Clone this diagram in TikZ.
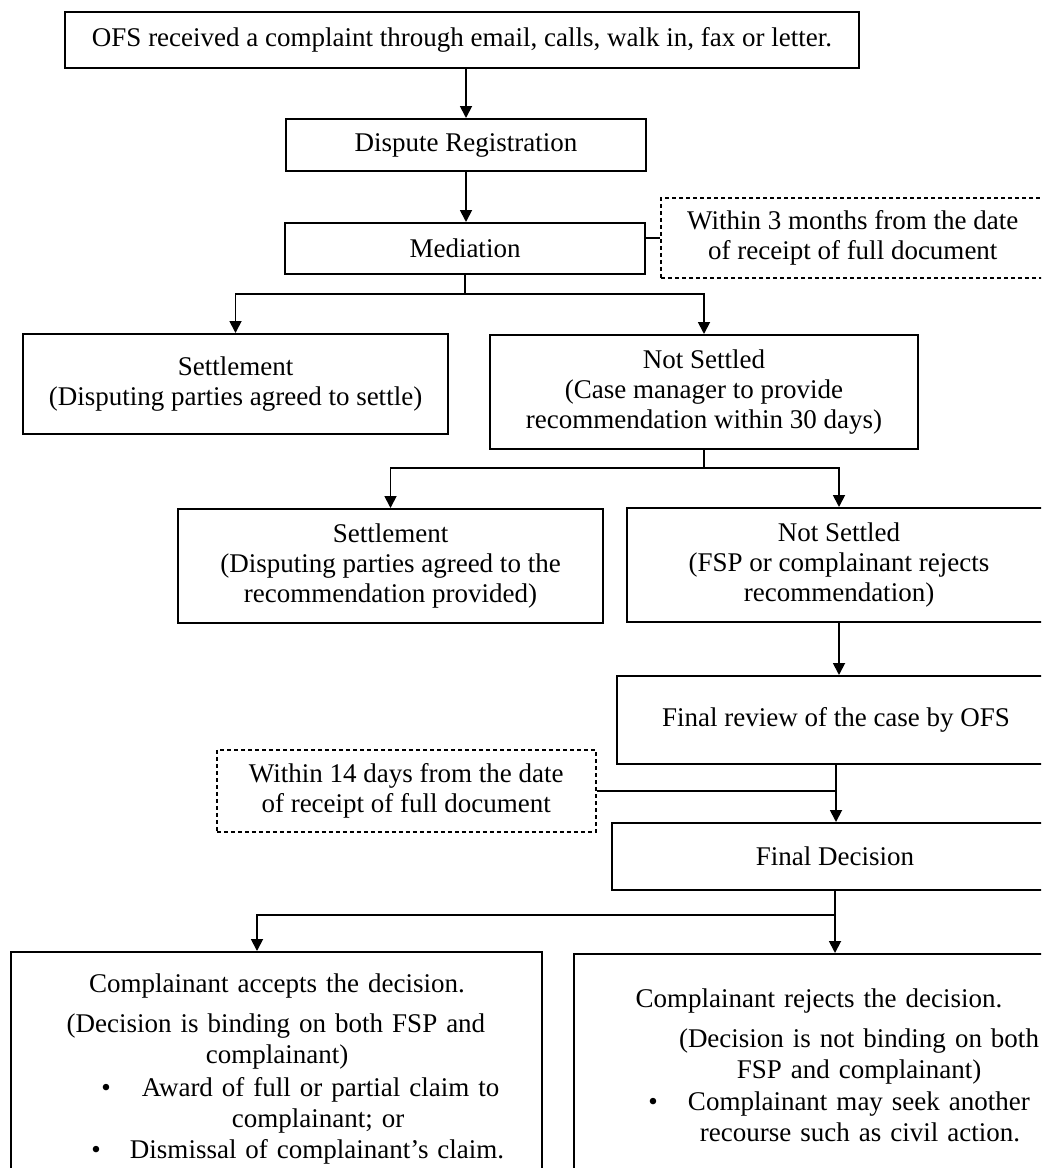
\documentclass[tikz,border=0pt]{standalone}
\usepackage{fontspec}
\setmainfont{Liberation Serif}
\usetikzlibrary{arrows.meta}
\newlength{\px}
\setlength{\px}{0.5pt}
% one line of text centred at #1 (from the left side of the box)
\newcommand{\midline}[2]{\hspace*{#1\px}\makebox[0pt]{#2}}
% bullet centred at #1, text starting #2 further on
\newcommand{\bulletline}[3]{\hspace*{#1\px}\makebox[0pt]{\textbullet}\hspace*{#2\px}#3}
\tikzstyle{process_node} = [
    rectangle, 
    draw=black, 
    line width=1pt, 
    align=center, 
    anchor=north west, 
    inner sep=0pt, 
    font=\fontsize{13.5pt}{15pt}\selectfont
]
\tikzstyle{note_node} = [
    rectangle, 
    draw=black, 
    dashed, 
    dash pattern=on 2pt off 1.5pt, 
    line width=0.75pt, 
    align=center, 
    anchor=north west, 
    inner sep=0pt, 
    font=\fontsize{13.5pt}{15pt}\selectfont
]
\tikzstyle{outcome_node} = [
    process_node, 
    align=left, 
    inner xsep=0pt, % lines are placed by hand
    font=\fontsize{13.5pt}{15.5pt}\selectfont
]
\tikzstyle{flow_line} = [
    line width=0.9pt, 
    -{Triangle[length=6pt, width=6pt]}
]
\tikzstyle{tie_line} = [
    line width=0.9pt
]

\begin{document}
\begin{tikzpicture}[x=0.5pt, y=-0.5pt]
\path [use as bounding box] (0,0) rectangle (1041,1168);
\clip (0,0) rectangle (1041,1168);

\node [process_node, minimum width=794\px, minimum height=56\px] (complaint) at (64,11)
    {OFS received a complaint through email, calls, walk in, fax or letter.};
\node [process_node, minimum width=360\px, minimum height=52\px] (reg) at (285,118)
    {Dispute Registration};
\node [process_node, minimum width=360\px, minimum height=51\px] (med) at (284,222)
    {Mediation};
\node [note_node, minimum width=384\px, minimum height=80\px] (note1) at (660,197)
    {Within 3 months from the date\\of receipt of full document};

\node [process_node, minimum width=425\px, minimum height=100\px] (settle1) at (22,333)
    {Settlement\\(Disputing parties agreed to settle)};
\node [process_node, minimum width=428\px, minimum height=114\px] (notset1) at (489,334)
    {Not Settled\\(Case manager to provide\\recommendation within 30 days)};

\node [process_node, minimum width=425\px, minimum height=114\px] (settle2) at (177,508)
    {Settlement\\(Disputing parties agreed to the\\recommendation provided)};
\node [process_node, minimum width=424\px, minimum height=114\px] (notset2) at (626,507)
    {Not Settled\\(FSP or complainant rejects\\recommendation)};

\node [process_node, minimum width=438\px, minimum height=88\px] (review) at (616,675)
    {Final review of the case by OFS};
\node [note_node, minimum width=379\px, minimum height=82\px] (note2) at (216,749)
    {Within 14 days from the date\\of receipt of full document};
\node [process_node, minimum width=446\px, minimum height=67\px] (decision) at (611,822)
    {Final Decision};

\node [outcome_node, text width=531\px, inner ysep=22\px] (accept) at (10,951)
    {\midline{266}{Complainant accepts the decision.}\\[4.5pt]
     \midline{265}{(Decision is binding on both FSP and}\\
     \midline{266}{complainant)}\\[1pt]
     \bulletline{95}{36}{Award of full or partial claim to}\\
     \midline{307}{complainant; or}\\
     \bulletline{85}{34}{Dismissal of complainant’s claim.}};
\node [outcome_node, text width=520\px, inner ysep=35\px] (reject) at (573,953)
    {\midline{245}{Complainant rejects the decision.}\\[4.5pt]
     \midline{285}{(Decision is not binding on both}\\
     \midline{285}{FSP and complainant)}\\[0.5pt]
     \bulletline{79}{35}{Complainant may seek another}\\
     \midline{286}{recourse such as civil action.}};

% connectors
\draw [flow_line] (complaint.south -| reg.north) -- (reg.north);
\draw [flow_line] (reg.south) -- (reg.south |- med.north);
\draw [tie_line] (med.east |- note1.west) -- (note1.west);
\draw [flow_line] (med.south) -- ++(0,19) -| (settle1.north);
\draw [flow_line] (med.south) -- ++(0,19) -| (notset1.north);
\draw [flow_line] (notset1.south) -- ++(0,18) -| (settle2.north);
\draw [flow_line] (notset1.south) -- ++(0,18) -| (notset2.north);
\draw [flow_line] (notset2.south) -- (notset2.south |- review.north);
\draw [flow_line] (review.south) -- (review.south |- decision.north);
\draw [tie_line] (note2.east) -- (note2.east -| review.south);
\draw [flow_line] (decision.south) -- (decision.south |- reject.north);
\draw [flow_line] (decision.south) -- ++(0,24) -| ([xshift=-19.5\px]accept.north);
\end{tikzpicture}
\end{document}
